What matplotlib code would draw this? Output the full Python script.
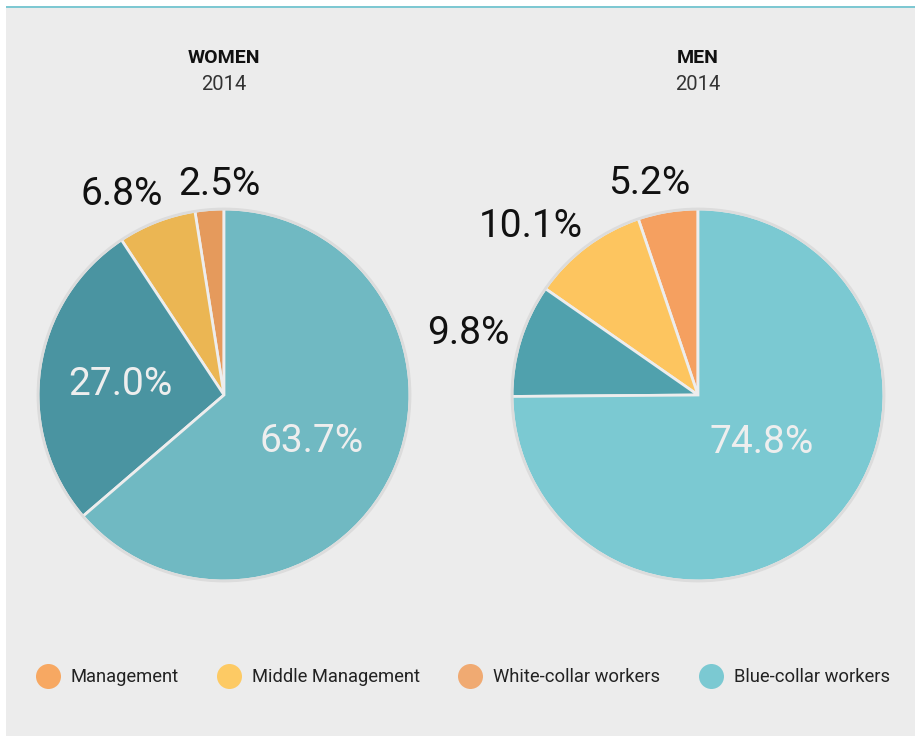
import numpy as np
import matplotlib
matplotlib.use('Agg')
import matplotlib.pyplot as plt
from matplotlib.lines import Line2D
from matplotlib.patches import Rectangle

plt.rcParams['font.family'] = ['Roboto', 'DejaVu Sans']

# data
categories = ['Management', 'Middle Management', 'White-collar workers', 'Blue-collar workers']
women_2014 = [2.5, 6.8, 27.0, 63.7]
men_2014 = [5.2, 10.1, 9.8, 74.8]

women_colors = ['#e59a5c', '#ebb653', '#4a94a1', '#70b9c2']
men_colors = ['#f5a060', '#fdc55f', '#50a1ad', '#7bc9d2']
legend_colors = ['#f7a862', '#fdca64', '#f0aa72', '#7bc9d2']

# label placement per slice: (distance from centre, angle in degrees), inside flag
women_lab_pos = [(1.156, 91.1), (1.231, 116.5), (0.565, 171.8), (0.527, 334.0)]
men_lab_pos = [(1.186, 102.8), (1.293, 134.0), (1.285, 164.2), (0.415, 326.1)]
women_inside = [False, False, True, True]
men_inside = [False, False, False, True]

W, H = 915, 736
fig = plt.figure(figsize=(W / 100, H / 100), dpi=100, facecolor='white')

# grey panel + teal top rule on a background axes
bg = fig.add_axes([0, 0, 1, 1], zorder=-10)
bg.set_xlim(0, W)
bg.set_ylim(H, 0)
bg.axis('off')
bg.add_patch(Rectangle((6, 8), W - 6, H - 8, facecolor='#ececec', edgecolor='none'))
bg.add_patch(Rectangle((6, 5.5), W - 6, 2.5, facecolor='#7ec8d2', edgecolor='none'))


def draw_pie(cx, cy, r, values, colors, lab_pos, inside_flags, title):
    ax = fig.add_axes([(cx - r - 4) / W, (H - cy - r - 4) / H, (2 * r + 8) / W, (2 * r + 8) / H])
    ax.set_facecolor('none')
    wedges, _ = ax.pie(values, colors=colors, startangle=90, counterclock=True,
                       radius=1.0, normalize=True,
                       wedgeprops=dict(edgecolor='#ededed', linewidth=2))
    # soft outer border
    ax.add_patch(plt.Circle((0, 0), 1.0, facecolor='none', edgecolor='#dcdcdc', linewidth=2, zorder=5))
    lim = 1.0 + 4 / r
    ax.set_xlim(-lim, lim)
    ax.set_ylim(-lim, lim)
    ax.set_aspect('equal')
    ax.axis('off')
    for v, (d, a), inside in zip(values, lab_pos, inside_flags):
        ang = np.deg2rad(a)
        ax.text(d * np.cos(ang), d * np.sin(ang), f'{v:.1f}%', ha='center', va='center_baseline',
                fontsize=28, color='#eeeeee' if inside else '#111111', zorder=6, clip_on=False)
    fig.text(cx / W, 1 - 58 / H, title, ha='center', va='center', fontsize=14,
             fontweight='bold', color='#111111')
    fig.text(cx / W, 1 - 85 / H, '2014', ha='center', va='center', fontsize=14.5,
             color='#333333')


draw_pie(224, 395, 186, women_2014, women_colors, women_lab_pos, women_inside, 'WOMEN')
draw_pie(698, 395, 186, men_2014, men_colors, men_lab_pos, men_inside, 'MEN')

handles = [Line2D([0], [0], marker='o', linestyle='none', markersize=18,
                  markerfacecolor=c, markeredgecolor='none') for c in legend_colors]
fig.legend(handles, categories, loc='center', bbox_to_anchor=(0.5 + 2 / W, 1 - 677 / H),
           ncol=4, frameon=False, handletextpad=0.25, columnspacing=1.75,
           labelcolor='#222222', prop=dict(family='Roboto', size=13.2))

fig.savefig('out.png', dpi=100, facecolor=fig.get_facecolor())
